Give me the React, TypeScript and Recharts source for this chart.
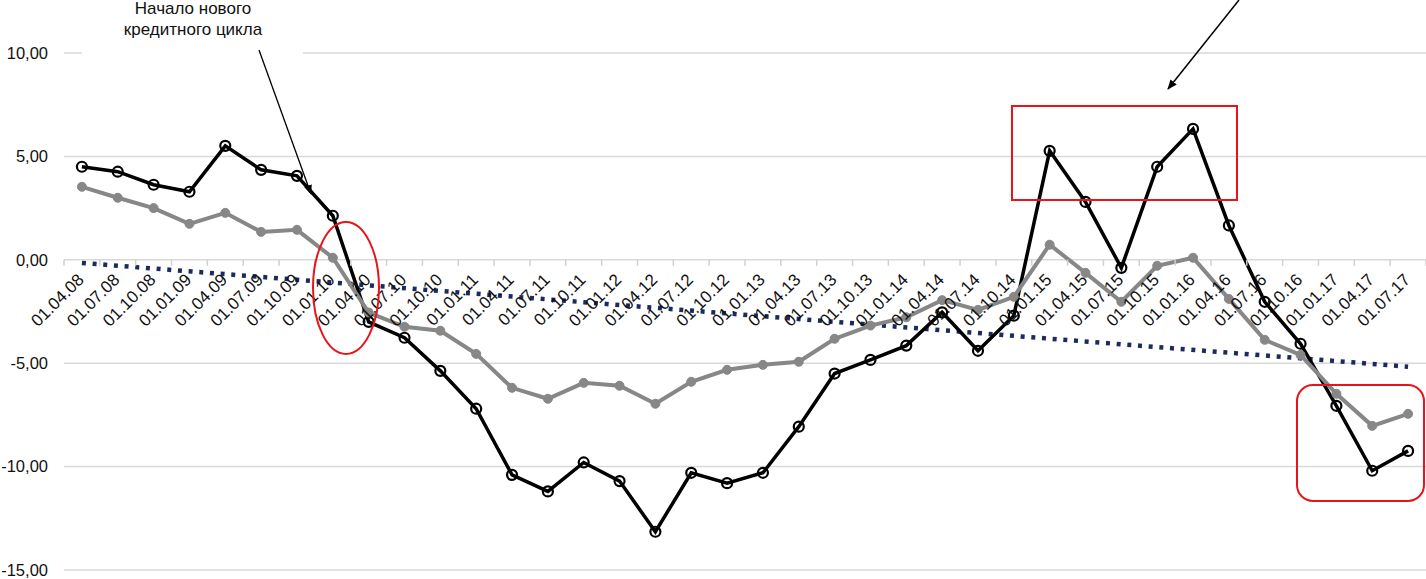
import React from 'react';
import { LineChart, Line, XAxis, YAxis, CartesianGrid, ReferenceLine } from 'recharts';

const W = 1426;
const H = 579;
const MARGIN = { top: 53, right: 0, bottom: 8, left: 0 };
const X_AXIS_H = 1;
const Y_AXIS_W = 64;
const Y_MIN = -15;
const Y_MAX = 10;

const categories = [
  '01.04.08', '01.07.08', '01.10.08',
  '01.01.09', '01.04.09', '01.07.09', '01.10.09',
  '01.01.10', '01.04.10', '01.07.10', '01.10.10',
  '01.01.11', '01.04.11', '01.07.11', '01.10.11',
  '01.01.12', '01.04.12', '01.07.12', '01.10.12',
  '01.01.13', '01.04.13', '01.07.13', '01.10.13',
  '01.01.14', '01.04.14', '01.07.14', '01.10.14',
  '01.01.15', '01.04.15', '01.07.15', '01.10.15',
  '01.01.16', '01.04.16', '01.07.16', '01.10.16',
  '01.01.17', '01.04.17', '01.07.17',
];

const blackSeries = [
  4.5, 4.26, 3.63, 3.29, 5.51, 4.35, 4.06, 2.13, -3.0, -3.77, -5.37, -7.2,
  -10.4, -11.2, -9.8, -10.7, -13.15, -10.3, -10.8, -10.3, -8.07, -5.5, -4.84, -4.15, -2.54,
  -4.4, -2.7, 5.27, 2.8, -0.39, 4.5, 6.33, 1.66, -2.03, -4.06, -7.06, -10.2, -9.24,
];

const graySeries = [
  3.53, 3.0, 2.5, 1.74, 2.27, 1.35, 1.45, 0.1, -2.55, -3.24, -3.43, -4.55,
  -6.19, -6.72, -5.95, -6.09, -6.96, -5.9, -5.32, -5.08, -4.93, -3.82, -3.18, -2.78, -1.95,
  -2.42, -1.79, 0.73, -0.63, -2.03, -0.29, 0.1, -1.89, -3.87, -4.6, -6.48, -8.03, -7.45,
];

// linear trend: value at first and last category
const trendEnds = [-0.15, -5.17];

const yTicks = [-15, -10, -5, 0, 5, 10];

const data = categories.map((c, i) => ({ date: c, a: blackSeries[i], b: graySeries[i] }));

const PLOT_W = W - MARGIN.left - MARGIN.right - Y_AXIS_W;
const PLOT_H = H - MARGIN.top - MARGIN.bottom - X_AXIS_H;
const STEP = PLOT_W / categories.length;
const ZERO_Y = MARGIN.top + (PLOT_H * Y_MAX) / (Y_MAX - Y_MIN);

const fmt = (v: number) => v.toFixed(2).replace('.', ',');

// category labels sit on the zero line, like an Excel axis crossing at 0
const ZeroAxisTick = (props: any) => {
  const { x, index, payload } = props;
  const last = index === categories.length - 1;
  const tx = x + 3;
  const ty = ZERO_Y + 21;
  return (
    <g>
      <line x1={x - STEP / 2} x2={x - STEP / 2} y1={ZERO_Y} y2={ZERO_Y + 6} stroke="#d0d0d0" strokeWidth={1.5} />
      {last && (
        <line x1={x + STEP / 2} x2={x + STEP / 2} y1={ZERO_Y} y2={ZERO_Y + 6} stroke="#d0d0d0" strokeWidth={1.5} />
      )}
      <text x={tx} y={ty} transform={`rotate(-45, ${tx}, ${ty})`} textAnchor="end" fontSize={17} fill="#111">
        {payload.value}
      </text>
    </g>
  );
};

const Annotations = () => (
  <svg width={W} height={H} style={{ position: 'absolute', left: 0, top: 0, pointerEvents: 'none' }}>
    <defs>
      <marker id="arrowHead" markerWidth="10" markerHeight="8" refX="9" refY="4" orient="auto" markerUnits="userSpaceOnUse">
        <path d="M0,0 L10,4 L0,8 Z" fill="#000" />
      </marker>
    </defs>
    <rect x={82} y={0} width={221} height={58} fill="#fff" />
    <text x={193} y={14} textAnchor="middle" fontSize={17} fill="#111">Начало нового</text>
    <text x={193} y={35} textAnchor="middle" fontSize={17} fill="#111">кредитного цикла</text>
    <line x1={259} y1={50} x2={311} y2={194} stroke="#000" strokeWidth={1.3} markerEnd="url(#arrowHead)" />
    <line x1={1239} y1={0} x2={1168} y2={89} stroke="#000" strokeWidth={1.5} markerEnd="url(#arrowHead)" />
    <ellipse cx={346} cy={288} rx={33} ry={66} fill="none" stroke="#e8141b" strokeWidth={2} />
    <rect x={1012} y={106} width={225} height={94} fill="none" stroke="#e8141b" strokeWidth={2} />
    <rect x={1297} y={385} width={127} height={116} rx={16} ry={16} fill="none" stroke="#e8141b" strokeWidth={2} />
  </svg>
);

export default function App() {
  return (
    <div style={{ position: 'absolute', left: 0, top: 0, width: W, height: H, background: '#fff', fontFamily: 'Arial, "Liberation Sans", sans-serif' }}>
      <LineChart width={W} height={H} data={data} margin={MARGIN}>
        <CartesianGrid vertical={false} stroke="#d9d9d9" strokeWidth={1.5} />
        <XAxis
          dataKey="date"
          axisLine={false}
          tickLine={false}
          height={X_AXIS_H}
          interval={0}
          padding={{ left: STEP / 2, right: STEP / 2 }}
          tick={<ZeroAxisTick />}
        />
        <YAxis
          width={Y_AXIS_W}
          domain={[Y_MIN, Y_MAX]}
          ticks={yTicks}
          interval={0}
          axisLine={false}
          tickLine={false}
          tickMargin={10}
          tickFormatter={fmt}
          tick={{ fontSize: 16.5, fill: '#111' }}
        />
        <ReferenceLine
          segment={[
            { x: categories[0], y: trendEnds[0] },
            { x: categories[categories.length - 1], y: trendEnds[1] },
          ]}
          stroke="#1c2b5e"
          strokeWidth={4.5}
          strokeDasharray="4 6.7"
          ifOverflow="visible"
        />
        <Line
          dataKey="a"
          stroke="#000"
          strokeWidth={3.5}
          dot={{ r: 5, fill: 'none', stroke: '#000', strokeWidth: 2.2 }}
          isAnimationActive={false}
        />
        <Line
          dataKey="b"
          stroke="#878787"
          strokeWidth={4}
          dot={{ r: 4.5, fill: '#878787', stroke: '#878787', strokeWidth: 1 }}
          isAnimationActive={false}
        />
      </LineChart>
      <Annotations />
    </div>
  );
}
